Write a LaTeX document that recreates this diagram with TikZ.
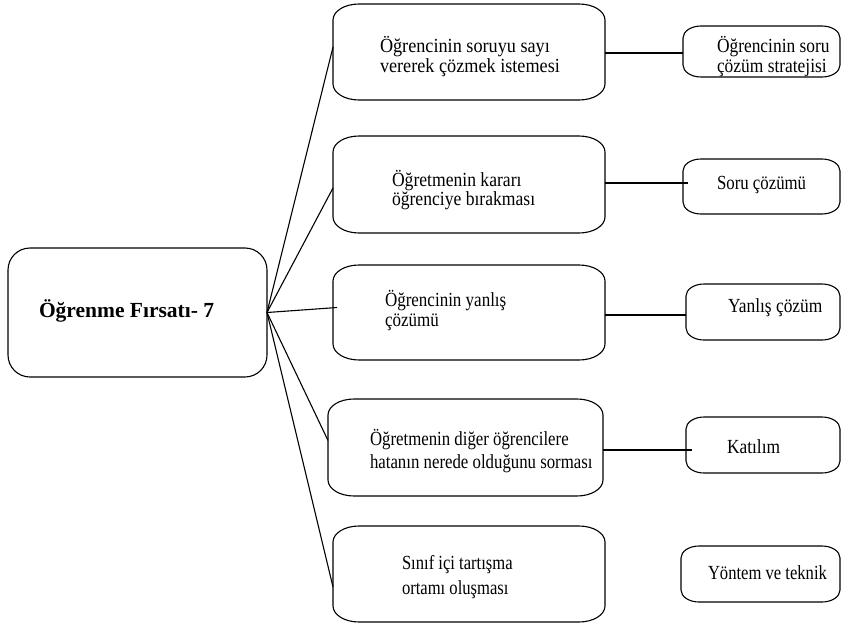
\documentclass[tikz,border=0pt]{standalone}
\usepackage{fontspec}
\setmainfont{Liberation Serif}
\begin{document}
\begin{tikzpicture}[x=1pt,y=-1pt,
  boxline/.style={line width=1.1pt,black},
  link/.style={line width=1.1pt,black},
  frame/.style={draw=none,inner sep=0pt,outer sep=0pt},
  % text label: horizontal stretch, line distance
  label/.style 2 args={inner sep=0pt,outer sep=0pt,anchor=west,align=left,
    font=\fontsize{20}{#2}\selectfont\addfontfeature{FakeStretch=#1}},
  title/.style={inner sep=0pt,outer sep=0pt,anchor=west,
    font=\fontsize{21.5}{24}\selectfont\bfseries}]
% rounded frame with elliptical corners around a node: name, x radius, y radius
\newcommand\softbox[3]{%
  \draw[boxline] ([xshift=#2]#1.north west) -- ([xshift=-#2]#1.north east)
    arc[start angle=90,end angle=0,x radius=#2,y radius=#3]
    -- ([yshift=#3]#1.south east)
    arc[start angle=0,end angle=-90,x radius=#2,y radius=#3]
    -- ([xshift=#2]#1.south west)
    arc[start angle=270,end angle=180,x radius=#2,y radius=#3]
    -- ([yshift=-#3]#1.north west)
    arc[start angle=180,end angle=90,x radius=#2,y radius=#3] -- cycle;}
\useasboundingbox (0,0) rectangle (842,623);

% central box
\node[frame,minimum width=259pt,minimum height=129pt] (main) at (137.5,312.5) {};
\softbox{main}{22pt}{22pt}
\node[title] (tmain) at (39,311) {Öğrenme Fırsatı- 7};

% middle column
\node[frame,minimum width=272pt,minimum height=96pt] (b1) at (469,52) {};
\node[frame,minimum width=272pt,minimum height=97pt] (b2) at (469,184.5) {};
\node[frame,minimum width=272pt,minimum height=95pt] (b3) at (469,312.5) {};
\node[frame,minimum width=275pt,minimum height=97pt] (b4) at (465.5,447.5) {};
\node[frame,minimum width=272pt,minimum height=96pt] (b5) at (469,574) {};
\foreach \n in {b1,b2,b3,b4,b5} {\softbox{\n}{26pt}{16pt}}

\node[label={0.91}{20}] (t1) at (380,57) {Öğrencinin soruyu sayı\\vererek çözmek istemesi};
\node[label={0.88}{19}] (t2) at (392,190) {Öğretmenin kararı\\öğrenciye bırakması};
\node[label={0.85}{20}] (t3) at (385,311) {Öğrencinin yanlış\\çözümü};
\node[label={0.84}{23}] (t4) at (370,451) {Öğretmenin diğer öğrencilere\\hatanın nerede olduğunu sorması};
\node[label={0.83}{25}] (t5) at (402,577) {Sınıf içi tartışma\\ortamı oluşması};

% right column
\node[frame,minimum width=157pt,minimum height=51pt] (r1) at (761.5,51.5) {};
\node[frame,minimum width=157pt,minimum height=55pt] (r2) at (761.5,186.5) {};
\node[frame,minimum width=154pt,minimum height=56pt] (r3) at (763,312) {};
\node[frame,minimum width=154pt,minimum height=56pt] (r4) at (763,445) {};
\node[frame,minimum width=159pt,minimum height=56pt] (r5) at (760.5,574) {};
\foreach \n in {r1,r2,r3,r4,r5} {\softbox{\n}{18pt}{12pt}}

\node[label={0.87}{20}] (s1) at (717,57) {Öğrencinin soru\\çözüm stratejisi};
\node[label={0.84}{20}] (s2) at (717,185) {Soru çözümü};
\node[label={0.87}{20}] (s3) at (728,308) {Yanlış çözüm};
\node[label={0.87}{20}] (s4) at (727,447) {Katılım};
\node[label={0.83}{20}] (s5) at (708,573) {Yöntem ve teknik};

% spokes from the central box
\draw[link] (main.east) -- ([yshift=5pt]b1.west);
\draw[link] (main.east) -- ([yshift=-3.5pt]b2.west);
\draw[link] (main.east) -- ([xshift=4pt,yshift=5pt]b3.west);
\draw[link] (main.east) -- ([yshift=7pt]b4.west);
\draw[link] (main.east) -- ([yshift=-13pt]b5.west);

% links to the right column
\draw[link] ([yshift=-1pt]b1.east) -- ([yshift=-1pt]b1.east -| r1.west);
\draw[link] ([yshift=1.5pt]b2.east) -- ([xshift=5pt,yshift=1.5pt]b2.east -| r2.west);
\draw[link] ([yshift=-2.5pt]b3.east) -- ([yshift=-2.5pt]b3.east -| r3.west);
\draw[link] ([yshift=-2.5pt]b4.east) -- ([xshift=6pt,yshift=-2.5pt]b4.east -| r4.west);
\end{tikzpicture}
\end{document}
